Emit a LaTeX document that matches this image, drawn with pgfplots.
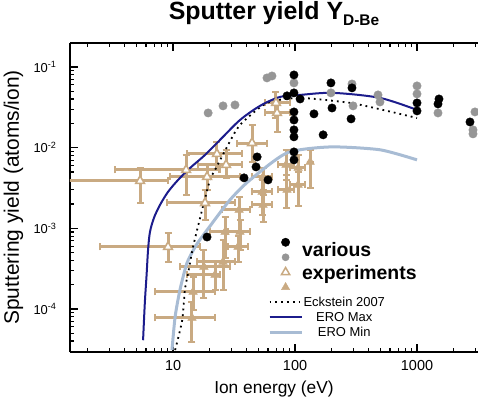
\documentclass[border=0pt]{standalone}
\usepackage{pgfplots}
\pgfplotsset{compat=1.18}
\usepackage{pgfplotstable}
\usepackage{fontspec}
\setmainfont{Liberation Sans}

\definecolor{eromax}{RGB}{28,28,140}
\definecolor{eromin}{RGB}{168,188,212}
\definecolor{tanc}{RGB}{201,170,130}
\definecolor{dotgray}{RGB}{150,150,150}

\pgfplotsset{
  lineleg/.style={legend image code/.code={\draw[##1] (-7.5bp,0pt) -- (24.5bp,0pt);}},
  errs/.style={error bars/.cd, x dir=both, x explicit, y dir=both, y explicit,
    error bar style={line width=3bp, draw=tanc, solid},
    error mark options={rotate=90, draw=tanc, line width=2.4bp, mark size=3.5bp}},
}

% measurements with error bars: centre, x range, y range
\pgfplotstableread{
x     y        xlo   xhi   ylo      yhi
5.37  3.87e-3  1.2   9.10  2.06e-3  5.60e-3
12.8  5.29e-3  3.35  24.0  2.59e-3  8.12e-3
22.9  8.35e-3  13.0  36.8  5.29e-3  0.0118
27.2  6.11e-3  16.0  36.8  4.22e-3  9.36e-3
19.0  4.34e-3  9.45  35.4  2.99e-3  6.11e-3
18.3  2.06e-3  8.93  32.2  1.27e-3  2.99e-3
9.10  5.88e-4  2.52  16.6  3.84e-4  8.77e-4
44.4  0.0114   33.5  58.9  6.65e-3  0.0191
71.2  0.0269   56.8  91.0  0.0157   0.0390
69.8  0.0358   56.8  91.0  0.0233   0.0490
}\opentri

\pgfplotstableread{
x     y        xlo   xhi   ylo      yhi
34.8  1.69e-3  25.2  42.8  8.77e-4  2.45e-3
26.7  9.02e-4  20.1  35.4  4.30e-4  1.38e-3
35.4  9.02e-4  28.2  42.8  5.40e-4  1.27e-3
17.9  3.33e-4  11.4  29.3  1.37e-4  5.40e-4
25.7  3.84e-4  15.7  32.2  1.73e-4  7.18e-4
14.6  1.63e-4  7.12  22.1  9.75e-5  2.50e-4
14.3  7.76e-5  7.12  22.1  3.91e-5  1.23e-4
22.1  2.65e-4  13.0  24.3  1.73e-4  3.84e-4
34.1  5.88e-4  28.2  41.2  3.84e-4  8.05e-4
53.7  2.83e-3  44.4  64.8  1.47e-3  3.98e-3
54.7  1.95e-3  44.4  64.8  1.20e-3  2.59e-3
84.4  6.11e-3  72.5  98.1  3.98e-3  9.36e-3
85.9  2.99e-3  72.5  98.1  1.79e-3  4.59e-3
106   5.60e-3  91.0  121   3.45e-3  8.12e-3
106   3.45e-3  91.0  121   1.90e-3  5.00e-3
133   6.65e-3  133   133   3.17e-3  9.36e-3
54.7  4.34e-3  44.4  64.8  2.99e-3  5.60e-3
}\filledtri

\begin{document}
\begin{tikzpicture}
\begin{axis}[
  scale only axis, width=408bp, height=309bp,
  xmode=log, ymode=log,
  xmin=1.43, xmax=3162, ymin=2.93e-5, ymax=0.198,
  axis x line*=box, axis y line*=left,
  axis line style={line width=1.6bp},
  tick align=inside, tick style={black, line width=1.2bp},
  major tick length=8bp, minor tick length=4bp,
  xtick={10,100,1000}, xticklabels={10,100,1000},
  minor xtick={2,3,4,5,6,7,8,9,20,30,40,50,60,70,80,90,200,300,400,500,600,700,800,900,2000,3000},
  ytick={1e-4,1e-3,1e-2,1e-1},
  yticklabels={10\textsuperscript{-4},10\textsuperscript{-3},10\textsuperscript{-2},10\textsuperscript{-1}},
  minor ytick={4e-5,5e-5,6e-5,7e-5,8e-5,9e-5,2e-4,3e-4,4e-4,5e-4,6e-4,7e-4,8e-4,9e-4,2e-3,3e-3,4e-3,5e-3,6e-3,7e-3,8e-3,9e-3,2e-2,3e-2,4e-2,5e-2,6e-2,7e-2,8e-2,9e-2},
  xticklabel style={font=\fontsize{14.5}{16}\selectfont, yshift=-5bp},
  yticklabel style={font=\fontsize{13}{15}\selectfont, xshift=-10bp},
  title={Sputter yield Y\raisebox{-6bp}{\fontsize{15.5}{16}\selectfont D-Be}},
  title style={font=\fontsize{25}{28}\selectfont\bfseries, at={(axis description cs:0.5,1.058)}, anchor=base},
  xlabel={Ion energy (eV)},
  xlabel style={font=\fontsize{17.4}{18}\selectfont, at={(axis description cs:0.5,-0.1327)}, anchor=base},
  ylabel={Sputtering yield (atoms/ion)},
  ylabel style={font=\fontsize{21}{22}\selectfont, at={(axis description cs:-0.125,0.5)}, anchor=base},
  legend style={draw=none, fill=none, inner sep=0pt, at={(0.485,0.38)}, anchor=north west,
    font=\fontsize{13}{13}\selectfont, row sep=0pt, column sep=0pt,
    nodes={inner sep=0.5bp, minimum height=15bp}},
  legend cell align=center,
]

% experiments with error bars
\addplot[forget plot, only marks, tanc, mark=triangle*, mark size=5bp,
  mark options={draw=tanc, fill=white, line width=1.6bp}, errs]
  table[x=x, y=y,
    x error plus expr=\thisrow{xhi}-\thisrow{x}, x error minus expr=\thisrow{x}-\thisrow{xlo},
    y error plus expr=\thisrow{yhi}-\thisrow{y}, y error minus expr=\thisrow{y}-\thisrow{ylo}] {\opentri};
\addplot[forget plot, only marks, tanc, mark=triangle*, mark size=5bp,
  mark options={draw=tanc, fill=tanc}, errs]
  table[x=x, y=y,
    x error plus expr=\thisrow{xhi}-\thisrow{x}, x error minus expr=\thisrow{x}-\thisrow{xlo},
    y error plus expr=\thisrow{yhi}-\thisrow{y}, y error minus expr=\thisrow{y}-\thisrow{ylo}] {\filledtri};

% ERO Min
\addplot[forget plot, eromin, line width=3bp, smooth, tension=0.4] coordinates {
  (9.8,3.1e-5) (10.4,8.0e-5) (11.4,1.73e-4) (13.0,3.7e-4) (15.5,6.2e-4) (19.0,9.5e-4)
  (29.3,2.25e-3) (42.8,3.98e-3) (85.9,8.6e-3) (194,0.0102) (497,9.4e-3) (1000,7.05e-3)
};
% Eckstein 2007
\addplot[forget plot, black, line width=1.8bp, dash pattern=on 1.8bp off 4bp, smooth, tension=0.4] coordinates {
  (10.4,3.1e-5) (11.9,7.3e-5) (12.5,1.73e-4) (13.3,2.8e-4) (14.6,5.9e-4) (17.3,1.69e-3)
  (20.1,3.98e-3) (22.1,5.3e-3) (27.7,0.0102) (35.4,0.0191) (58.9,0.0358) (110,0.0413)
  (283,0.0358) (526,0.0293) (1000,0.0233)
};
% ERO Max
\addplot[forget plot, eromax, line width=2bp, smooth, tension=0.5] coordinates {
  (5.68,4.1e-5) (5.78,7.3e-5) (5.89,1.30e-4) (6.07,2.65e-4) (6.24,5.40e-4) (6.47,9.02e-4)
  (6.98,1.35e-3) (7.82,1.95e-3) (9.10,2.83e-3) (11.0,3.98e-3) (13.8,5.60e-3) (18.3,8.12e-3)
  (25.2,0.0132) (35.4,0.0220) (51.6,0.0329) (75.3,0.0425) (110,0.045) (205,0.0477)
  (497,0.0413) (1000,0.0293)
};

% various experiments
\addplot[forget plot, only marks, mark=*, mark size=4.2bp, dotgray] coordinates {
  (19.4,0.0269) (25.7,0.0329) (32.2,0.0338) (58.9,0.0731) (64.7,0.0773) (98,0.0634)
  (197,0.0477) (293,0.0615) (299,0.0329) (479,0.0450) (497,0.0368) (1000,0.0582)
  (1000,0.0463) (1486,0.0269) (2985,0.0277) (2877,0.0166) (2877,0.0148)
};
\addplot[forget plot, only marks, mark=*, mark size=4.2bp, black] coordinates {
  (98,0.0796) (98,0.0477) (86,0.0438) (110,0.0401) (98,0.0277) (98,0.0220) (98,0.0166)
  (98,0.0136) (98,0.00885) (98,0.00705) (143,0.0262) (170,0.0144) (197,0.0634) (201,0.0310)
  (293,0.0550) (288,0.0227) (1000,0.0358) (1000,0.0285) (1514,0.0401) (1486,0.0348)
  (2718,0.0208) (48.9,0.00767) (47.9,0.00577) (38.2,0.00422) (60.1,0.00398) (19.0,7.8e-4)
};

\addlegendimage{only marks, mark=*, mark size=4.2bp, black}
\addlegendentry{\strut}
\addlegendimage{only marks, mark=*, mark size=3.6bp, dotgray}
\addlegendentry{\strut}
\addlegendimage{only marks, mark=triangle*, mark size=4.8bp, mark options={draw=tanc, fill=white, line width=1.5bp}}
\addlegendentry{\strut}
\addlegendimage{only marks, mark=triangle*, mark size=4.8bp, tanc}
\addlegendentry{\strut}
\addlegendimage{lineleg, black, line width=1.8bp, dash pattern=on 1.8bp off 4bp}
\addlegendentry{Eckstein 2007}
\addlegendimage{lineleg, eromax, line width=2bp}
\addlegendentry{ERO Max}
\addlegendimage{lineleg, eromin, line width=3bp}
\addlegendentry{ERO Min}

\node[anchor=base west, inner sep=0pt, font=\fontsize{19.5}{20}\selectfont\bfseries] at (axis cs:114,4.43e-4) {various};
\node[anchor=base west, inner sep=0pt, font=\fontsize{19.5}{20}\selectfont\bfseries] at (axis cs:114,2.30e-4) {experiments};
\end{axis}
\pgfresetboundingbox
\path[use as bounding box] (current axis.south west) ++(-70bp,-48bp) rectangle ([yshift=43bp]current axis.north east);
\end{tikzpicture}
\end{document}
